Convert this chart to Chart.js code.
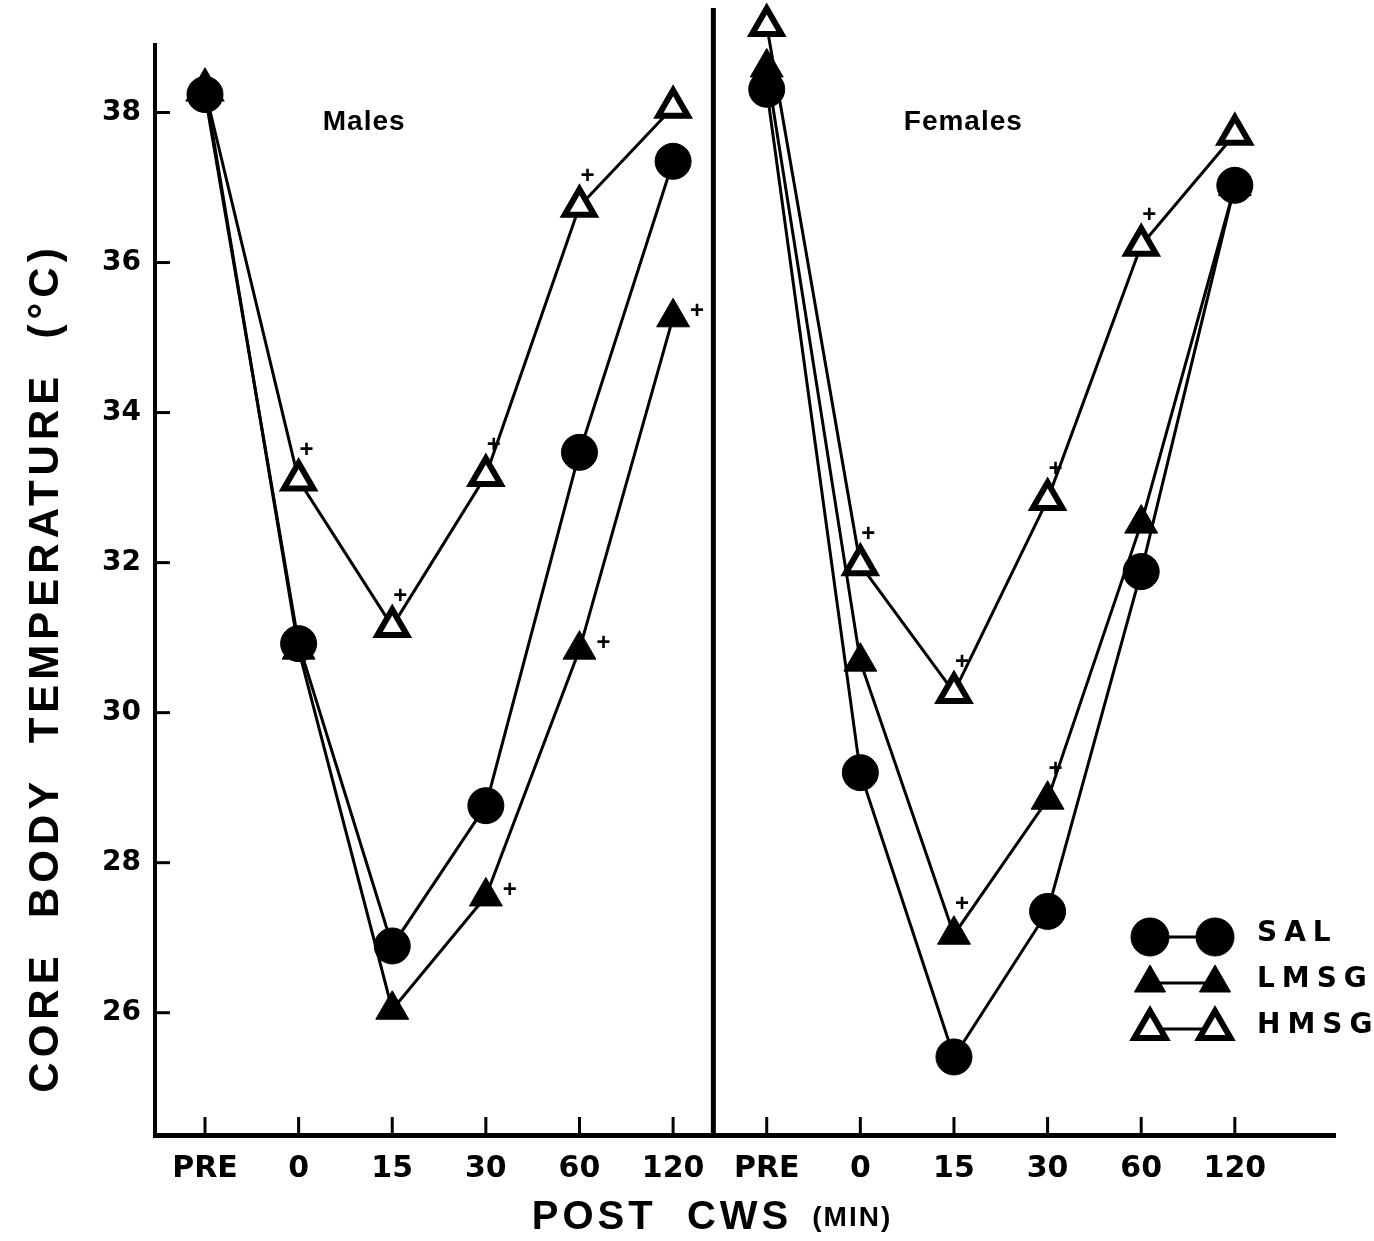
<!DOCTYPE html>
<html><head><meta charset="utf-8">
<script src="https://cdn.jsdelivr.net/npm/chart.js@4.4.0/dist/chart.umd.min.js"></script>
<style>html,body{margin:0;padding:0;background:#fff;}#wrap{width:1374px;height:1241px;}</style>
</head><body><div id="wrap"><canvas id="c" width="1374" height="1241"></canvas></div>
<script>
// ---- data ----
const timeLabels = ['PRE', '0', '15', '30', '60', '120'];
const panels = ['Males', 'Females'];
const seriesNames = ['SAL', 'LMSG', 'HMSG'];
const yTickValues = [26, 28, 30, 32, 34, 36, 38];

const malesSAL = [38.24, 30.92, 26.89, 28.76, 33.47, 37.35];
const malesLMSG = [38.33, 30.84, 26.04, 27.55, 30.84, 35.27];
const malesHMSG = [38.30, 33.10, 31.15, 33.16, 36.75, 38.07];
const femalesSAL = [38.31, 29.20, 25.41, 27.35, 31.88, 37.03];
const femalesLMSG = [38.60, 30.68, 27.04, 28.84, 32.52, 37.02];
const femalesHMSG = [39.16, 31.97, 30.27, 32.84, 36.23, 37.71];

// significance marks ("+"), by time point
const malesLMSGSig = [0, 0, 0, 1, 1, 1];
const malesHMSGSig = [0, 1, 1, 1, 1, 0];
const femalesLMSGSig = [0, 0, 1, 1, 0, 0];
const femalesHMSGSig = [0, 1, 1, 1, 1, 0];

// ---- build ----
const N = timeLabels.length;
const toPts = (vals, panel) => vals.map((v, i) => ({ x: i + panel * N, y: v }));
const allTickLabels = panels.flatMap(() => timeLabels);

const styles = {
  SAL: { pointStyle: 'circle', pointRadius: 18, backgroundColor: '#000', borderColor: '#000', pointBorderWidth: 1 },
  LMSG: { pointStyle: 'triangle', pointRadius: 19, backgroundColor: '#000', borderColor: '#000', pointBorderWidth: 1 },
  HMSG: { pointStyle: 'triangle', pointRadius: 17, backgroundColor: '#fff', borderColor: '#000', pointBorderWidth: 6 }
};
const seriesData = {
  SAL: [malesSAL, femalesSAL],
  LMSG: [malesLMSG, femalesLMSG],
  HMSG: [malesHMSG, femalesHMSG]
};
const sigData = {
  LMSG: [malesLMSGSig, femalesLMSGSig],
  HMSG: [malesHMSGSig, femalesHMSGSig]
};

const datasets = [];
seriesNames.forEach(name => {
  panels.forEach((p, pi) => {
    const s = styles[name];
    datasets.push({
      label: name + ' ' + p,
      series: name,
      panel: pi,
      data: toPts(seriesData[name][pi], pi),
      showLine: true,
      borderWidth: 3,
      borderColor: '#000',
      pointStyle: s.pointStyle,
      pointRadius: s.pointRadius,
      pointBackgroundColor: s.backgroundColor,
      pointBorderColor: s.borderColor,
      pointBorderWidth: s.pointBorderWidth,
      clip: false,
      tension: 0
    });
  });
});

const SANS = '"DejaVu Sans", "Liberation Sans", sans-serif';
const HELV = '"Liberation Sans", Arial, sans-serif';

const decor = {
  id: 'decor',
  beforeDatasetsDraw(chart) {
    const { ctx, chartArea: a, scales: { x, y } } = chart;
    ctx.save();
    ctx.strokeStyle = '#000';
    // panel divider
    const dx = x.getPixelForValue(N - 0.57);
    ctx.lineWidth = 5;
    ctx.beginPath(); ctx.moveTo(dx, 8); ctx.lineTo(dx, a.bottom); ctx.stroke();
    // y ticks (inward)
    ctx.lineWidth = 3;
    yTickValues.forEach(v => {
      const py = y.getPixelForValue(v);
      ctx.beginPath(); ctx.moveTo(a.left, py); ctx.lineTo(a.left + 15, py); ctx.stroke();
    });
    // x ticks (upward)
    allTickLabels.forEach((l, i) => {
      const px = x.getPixelForValue(i);
      ctx.beginPath(); ctx.moveTo(px, a.bottom); ctx.lineTo(px, a.bottom - 18); ctx.stroke();
    });
    // panel labels
    ctx.fillStyle = '#000';
    ctx.font = 'bold 28px ' + HELV;
    ctx.letterSpacing = '1px';
    ctx.textAlign = 'center'; ctx.textBaseline = 'middle';
    const labelPos = [1.7, N + 2.1];
    panels.forEach((p, i) => {
      ctx.fillText(p, x.getPixelForValue(labelPos[i]), y.getPixelForValue(37.87));
    });
    ctx.restore();
  },
  afterDraw(chart) {
    const { ctx, chartArea: a, scales: { x, y } } = chart;
    ctx.save();
    ctx.fillStyle = '#000';
    ctx.strokeStyle = '#000';
    // significance "+" marks
    ctx.font = 'bold 24px ' + HELV;
    ctx.textAlign = 'center'; ctx.textBaseline = 'middle';
    chart.data.datasets.forEach(ds => {
      const sig = sigData[ds.series];
      if (!sig) return;
      const flags = sig[ds.panel];
      ds.data.forEach((pt, i) => {
        if (!flags[i]) return;
        const px = x.getPixelForValue(pt.x), py = y.getPixelForValue(pt.y);
        const right = ds.series === 'LMSG' && ds.panel === 0;
        ctx.fillText('+', px + (right ? 24 : 8), py + (right ? -6 : -30));
      });
    });
    ctx.restore();

    // legend
    const lx1 = 1150, lx2 = 1215, ltx = 1257;
    const rows = [937, 983, 1029];
    seriesNames.forEach((name, i) => {
      const s = styles[name];
      const ry = rows[i];
      ctx.save();
      ctx.strokeStyle = '#000';
      ctx.lineWidth = 3;
      ctx.beginPath(); ctx.moveTo(lx1, ry); ctx.lineTo(lx2, ry); ctx.stroke();
      [lx1, lx2].forEach(px => {
        ctx.fillStyle = s.backgroundColor;
        ctx.strokeStyle = s.borderColor;
        ctx.lineWidth = s.pointBorderWidth;
        Chart.helpers.drawPoint(ctx, {
          pointStyle: s.pointStyle, radius: name === 'SAL' ? 19 : 18, borderWidth: s.pointBorderWidth, rotation: 0
        }, px, ry);
      });
      ctx.restore();
    });
    ctx.save();
    ctx.fillStyle = '#000';
    ctx.font = 'bold 28px ' + SANS;
    ctx.letterSpacing = '7px';
    ctx.textAlign = 'left'; ctx.textBaseline = 'middle';
    seriesNames.forEach((name, i) => {
      ctx.fillText(name, ltx, rows[i] - 3);
    });
    ctx.restore();

    // axis titles
    ctx.save();
    ctx.fillStyle = '#000';
    ctx.translate(46, 668);
    ctx.rotate(-Math.PI / 2);
    ctx.textAlign = 'center'; ctx.textBaseline = 'middle';
    ctx.font = 'bold 42px ' + HELV;
    ctx.letterSpacing = '5px';
    ctx.fillText('CORE  BODY  TEMPERATURE  (\u00B0C)', 0, 0);
    ctx.restore();

    ctx.save();
    ctx.fillStyle = '#000';
    ctx.textBaseline = 'alphabetic';
    ctx.textAlign = 'left';
    ctx.font = 'bold 40px ' + HELV;
    ctx.letterSpacing = '4px';
    const t1 = 'POST  CWS';
    const w1 = ctx.measureText(t1).width;
    ctx.font = 'bold 28px ' + HELV;
    ctx.letterSpacing = '2px';
    const t2 = '(MIN)';
    const w2 = ctx.measureText(t2).width;
    const gap = 20;
    const start = 712 - (w1 + gap + w2) / 2;
    ctx.font = 'bold 40px ' + HELV; ctx.letterSpacing = '4px';
    ctx.fillText(t1, start, 1229);
    ctx.font = 'bold 28px ' + HELV; ctx.letterSpacing = '2px';
    ctx.fillText(t2, start + w1 + gap, 1226);
    ctx.restore();
  }
};

new Chart(document.getElementById('c'), {
  type: 'scatter',
  data: { datasets },
  options: {
    responsive: false,
    animation: false,
    layout: { padding: { left: 0, right: 39, top: 45, bottom: 0 } },
    plugins: { legend: { display: false }, tooltip: { enabled: false } },
    scales: {
      x: {
        type: 'linear',
        min: -0.534,
        max: 12.07,
        afterBuildTicks: sc => { sc.ticks = allTickLabels.map((l, i) => ({ value: i })); },
        afterFit: sc => { sc.height = 106; },
        grid: { display: true, drawOnChartArea: false, drawTicks: false },
        border: { display: true, color: '#000', width: 5 },
        ticks: {
          autoSkip: false, maxRotation: 0, padding: 16,
          color: '#000',
          font: { family: SANS, size: 30, weight: 'bold' },
          callback: (v, i) => allTickLabels[i]
        }
      },
      y: {
        min: 24.37,
        max: 38.9,
        afterBuildTicks: sc => { sc.ticks = yTickValues.map(v => ({ value: v })); },
        afterFit: sc => { sc.width = 155; },
        grid: { display: true, drawOnChartArea: false, drawTicks: false },
        border: { display: true, color: '#000', width: 4 },
        ticks: {
          padding: 14,
          color: '#000',
          font: { family: SANS, size: 28, weight: 'bold' },
          callback: v => String(v)
        }
      }
    }
  },
  plugins: [decor]
});
</script>
</body></html>
